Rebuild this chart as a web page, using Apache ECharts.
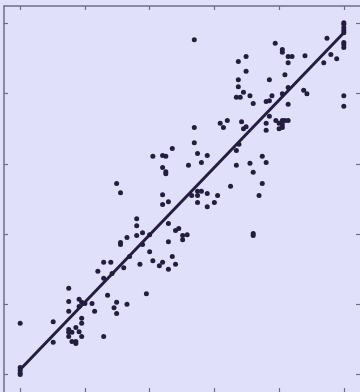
<!DOCTYPE html>
<html>
<head>
<meta charset="utf-8">
<script src="https://cdn.jsdelivr.net/npm/echarts@6/dist/echarts.min.js"></script>
<style>
  html, body { margin: 0; padding: 0; background: #e1e0fa; }
  #chart { width: 360px; height: 392px; }
</style>
</head>
<body>
<div id="chart"></div>
<script>
// observed values (x) and fitted/measured values (y)
const xValues = [
  0, 0, 0, 0, 0, 0.51, 0.51, 0.75, 0.75, 0.75, 0.75, 0.75, 0.75, 0.8, 0.8,
  0.86, 0.86, 0.86, 0.91, 0.91, 0.91, 0.95, 0.95, 0.95, 0.95, 1.0, 1.11, 1.15,
  1.2, 1.29, 1.29, 1.29, 1.35, 1.4, 1.42, 1.45, 1.49, 1.49, 1.6, 1.65, 1.85,
  1.95, 2.05, 2.15, 2.2, 2.29, 2.4, 2.35, 1.69, 2.0, 1.55, 1.55, 1.65, 1.8,
  1.8, 1.8, 1.89, 1.89, 2.0, 2.29, 2.29, 2.4, 2.45, 2.51, 2.51, 2.58, 1.49,
  1.55, 2.2, 2.29, 2.2, 2.25, 2.25, 2.2, 2.05, 2.2, 2.25, 2.35, 2.6, 2.69,
  2.69, 2.74, 2.8, 2.89, 2.65, 2.74, 2.8, 2.74, 2.89, 3.05, 2.74, 3.0, 2.89,
  2.69, 3.09, 3.14, 3.2, 3.25, 3.34, 3.34, 3.38, 3.42, 3.45, 3.49, 3.55, 3.6,
  3.74, 3.8, 3.74, 3.69, 3.6, 3.6, 3.37, 3.37, 3.37, 3.34, 3.4, 3.45, 3.49,
  3.49, 3.55, 3.6, 3.8, 3.85, 3.85, 3.89, 3.85, 3.8, 3.8, 3.95, 4.0, 4.0,
  4.05, 4.05, 4.05, 4.09, 4.14, 3.94, 4.05, 4.05, 4.14, 4.2, 4.14, 4.09, 4.05,
  4.14, 4.14, 4.4, 4.38, 4.43, 4.74, 4.8, 4.89, 4.69, 5, 5, 5, 5, 5, 5, 5, 5,
  5, 5
];
const yValues = [
  0.1, 0.06, 0.02, 0.0, 0.73, 0.75, 0.46, 1.23, 1.04, 0.9, 0.64, 0.6, 0.54,
  0.6, 0.47, 0.67, 0.47, 0.44, 1.07, 0.97, 0.61, 1.03, 0.8, 0.73, 0.54, 1.01,
  1.01, 0.9, 1.47, 1.6, 1.37, 0.54, 1.13, 1.6, 1.44, 0.95, 1.03, 0.87, 1.52,
  1.0, 1.57, 1.15, 1.62, 1.55, 1.6, 1.5, 1.57, 1.68, 1.68, 1.75, 1.88, 1.85,
  1.95, 2.22, 2.12, 1.98, 2.02, 1.85, 1.99, 2.15, 1.89, 2.05, 2.08, 1.98,
  1.92, 1.99, 2.72, 2.59, 2.56, 2.46, 2.42, 2.89, 2.86, 2.95, 3.11, 3.12,
  3.11, 3.22, 2.98, 3.3, 3.52, 3.15, 3.02, 3.12, 2.55, 2.61, 2.61, 2.55, 2.58,
  2.55, 2.45, 2.45, 2.39, 4.77, 3.58, 3.52, 3.62, 2.68, 2.98, 3.19, 3.28, 3.6,
  3.5, 3.53, 3.01, 2.88, 3.11, 3.02, 2.72, 2.55, 2.01, 1.98, 4.46, 4.2, 4.1,
  3.95, 3.95, 4.02, 4.53, 4.32, 3.97, 3.86, 3.89, 3.9, 4.2, 3.97, 3.68, 3.58,
  3.48, 3.62, 3.58, 3.5, 3.62, 3.56, 3.52, 3.62, 3.62, 4.72, 4.63, 4.59, 4.53,
  4.53, 4.44, 4.27, 4.0, 4.09, 3.85, 4.54, 4.05, 4.0, 4.79, 4.56, 4.5, 4.44,
  5.01, 4.99, 4.94, 4.9, 4.87, 4.73, 4.7, 4.66, 3.97, 3.82
];
// regression line end points
const fitX = [0, 5];
const fitY = [0.07, 4.87];
const tickValues = [0, 1, 2, 3, 4, 5];

const axisColor = '#6f6d86';
const markColor = '#241d40';

const chart = echarts.init(document.getElementById('chart'));

function axisCfg(position, showLine) {
  return {
    type: 'value', position: position, min: -0.25, max: 5.25,
    axisLine: { show: showLine, onZero: false, lineStyle: { color: axisColor, width: 1.5 } },
    axisTick: { show: true, inside: true, length: 4, customValues: tickValues, lineStyle: { color: axisColor, width: 1.2 } },
    axisLabel: { show: false, customValues: tickValues },
    splitLine: { show: false }
  };
}

chart.setOption({
  animation: false,
  backgroundColor: '#e1e0fa',
  grid: { left: 4, top: 6, right: 0, bottom: 0 },
  xAxis: [axisCfg('bottom', false), axisCfg('top', true)],
  yAxis: [axisCfg('left', true), axisCfg('right', false)],
  series: [
    {
      type: 'scatter',
      symbolSize: 5,
      itemStyle: { color: markColor, opacity: 1 },
      data: xValues.map((x, i) => [x, yValues[i]])
    },
    {
      type: 'line',
      showSymbol: false,
      z: 3,
      lineStyle: { color: markColor, width: 3 },
      data: fitX.map((x, i) => [x, fitY[i]])
    }
  ]
});
</script>
</body>
</html>
